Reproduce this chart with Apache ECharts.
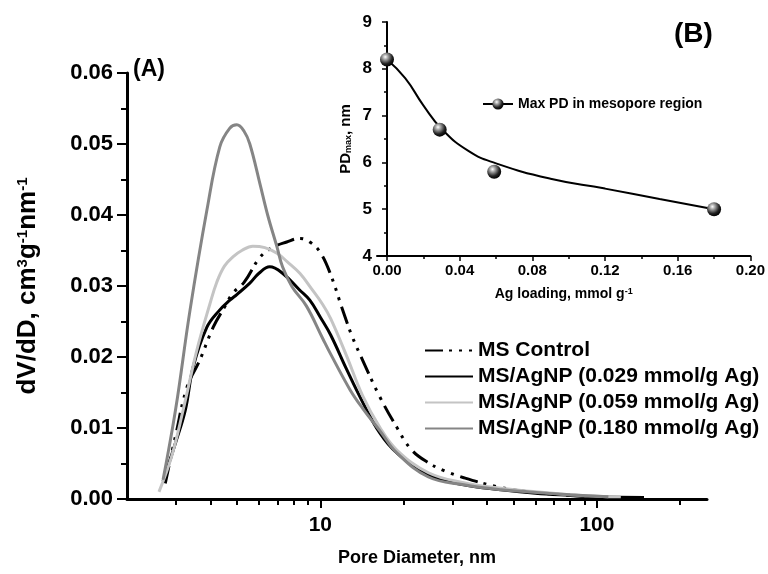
<!DOCTYPE html>
<html>
<head>
<meta charset="utf-8">
<script src="https://cdn.jsdelivr.net/npm/echarts@6/dist/echarts.min.js"></script>
<style>
  html, body { margin: 0; padding: 0; background: #fff; }
  #root { width: 768px; height: 574px; }
</style>
</head>
<body>
<div id="root"></div>
<script>
// main panel (A): pore size distributions, x = pore diameter (nm), y = dV/dD
const controlD = [2.75, 3.0, 3.3, 3.67, 4.1, 4.5, 4.83, 5.3, 6.04, 6.7, 7.56, 8.43, 9.16, 10, 10.9, 12, 13, 14.2, 16.4, 18.9, 21.4, 24.6, 28, 33, 44, 57, 75, 100]
const controlV = [0.0022, 0.009, 0.0158, 0.0196, 0.0242, 0.027, 0.029, 0.0305, 0.034, 0.0354, 0.0362, 0.0367, 0.0362, 0.0347, 0.0316, 0.0268, 0.023, 0.0196, 0.0144, 0.0101, 0.0069, 0.0051, 0.004, 0.003, 0.0017, 0.001, 0.0006, 0.0003]

const ag029D = [2.7, 3.0, 3.25, 3.47, 3.89, 4.3, 4.71, 4.99, 5.56, 6.0, 6.56, 7.3, 8.43, 9.16, 10, 10.9, 12.4, 14.2, 16.4, 18.9, 24.6, 33, 45, 60, 80, 100, 148]
const ag029V = [0.0025, 0.008, 0.0125, 0.0186, 0.0242, 0.0265, 0.028, 0.0288, 0.0304, 0.0318, 0.0327, 0.0318, 0.0294, 0.028, 0.0256, 0.0231, 0.0184, 0.0137, 0.0093, 0.0065, 0.0034, 0.002, 0.0013, 0.0008, 0.0005, 0.0003, 0.0002]

const ag059D = [2.61, 2.9, 3.19, 3.58, 3.99, 4.22, 4.5, 4.83, 5.2, 5.7, 6.3, 6.97, 7.6, 8.43, 9.3, 10.2, 10.9, 12.4, 14.2, 16.4, 18.9, 24.6, 33, 45, 57, 80, 100, 122]
const ag059V = [0.001, 0.006, 0.0125, 0.021, 0.0275, 0.0305, 0.0328, 0.0341, 0.035, 0.0356, 0.0354, 0.0346, 0.0334, 0.0318, 0.0296, 0.0274, 0.0254, 0.0203, 0.0146, 0.0101, 0.0069, 0.0037, 0.0023, 0.0015, 0.0011, 0.0006, 0.0004, 0.0003]

const ag180D = [2.7, 3.0, 3.38, 3.89, 4.33, 4.7, 4.99, 5.3, 5.56, 6.04, 6.45, 6.97, 7.3, 7.9, 8.9, 10.2, 10.9, 12.8, 14.2, 16.5, 18.9, 24.6, 33, 45, 57, 80, 110]
const ag180V = [0.0027, 0.0127, 0.0266, 0.0407, 0.0496, 0.0522, 0.0527, 0.0518, 0.05, 0.0445, 0.04, 0.0355, 0.0327, 0.0299, 0.0272, 0.0226, 0.0204, 0.0154, 0.0128, 0.0095, 0.0065, 0.0031, 0.002, 0.0013, 0.001, 0.0006, 0.0003]

const seriesNames = ['MS Control', 'MS/AgNP (0.029 mmol/g Ag)', 'MS/AgNP (0.059 mmol/g Ag)', 'MS/AgNP (0.180 mmol/g Ag)']

const mainMajorTicks = [10, 100]
const mainMinorTicks = [3, 4, 5, 6, 7, 8, 9, 20, 30, 40, 50, 60, 70, 80, 90, 200]

// inset (B): max pore diameter vs Ag loading
const loading = [0, 0.029, 0.059, 0.18]
const pdMax = [8.2, 6.7, 5.8, 5.0]
const fitLoading = [0, 0.01, 0.02, 0.03, 0.045, 0.06, 0.09, 0.12, 0.15, 0.18]
const fitPd = [8.2, 7.8, 7.22, 6.72, 6.24, 5.98, 5.65, 5.44, 5.22, 5.0]
const insetMajorTicks = [0, 0.04, 0.08, 0.12, 0.16, 0.20]
const insetMinorTicks = [0.02, 0.06, 0.10, 0.14, 0.18]

const zip = (xs, ys) => xs.map((x, i) => [x, ys[i]])

const FONT = 'Liberation Sans, Arial, sans-serif'
const bold = (size) => ({ fontFamily: FONT, fontWeight: 'bold', fontSize: size, color: '#000' })

const chart = echarts.init(document.getElementById('root'))

const option = {
  animation: false,
  backgroundColor: '#fff',
  grid: [
    { left: 127, right: 61, top: 73, bottom: 75 },
    { left: 377, right: 15, top: 22, bottom: 318 }
  ],
  xAxis: [
    {
      type: 'log', gridIndex: 0, position: 'bottom', min: 2, max: 250,
      axisLine: { lineStyle: { color: '#000', width: 3 } },
      axisTick: { customValues: mainMajorTicks, length: 9, lineStyle: { width: 2, color: '#000' } },
      axisLabel: { customValues: mainMajorTicks, margin: 16, ...bold(21) },
      splitLine: { show: false },
      name: 'Pore Diameter, nm', nameLocation: 'middle', nameGap: 50,
      nameTextStyle: bold(18)
    },
    {
      type: 'log', gridIndex: 0, position: 'bottom', min: 2, max: 250,
      axisLine: { show: false },
      axisTick: { customValues: mainMinorTicks, length: 6, lineStyle: { width: 2, color: '#000' } },
      axisLabel: { show: false },
      splitLine: { show: false }
    },
    {
      type: 'value', gridIndex: 1, position: 'bottom', min: -0.0055, max: 0.2,
      axisLine: { lineStyle: { color: '#000', width: 2 } },
      axisTick: { customValues: insetMajorTicks, length: 5, lineStyle: { width: 1.5, color: '#000' } },
      axisLabel: { customValues: insetMajorTicks, margin: 7, formatter: v => v.toFixed(2), ...bold(15) },
      splitLine: { show: false },
      name: '{a|Ag loading, mmol g}{s|-1}', nameLocation: 'middle', nameGap: 31,
      nameTextStyle: { ...bold(14), rich: { a: bold(14), s: { ...bold(9), verticalAlign: 'top' } } }
    },
    {
      type: 'value', gridIndex: 1, position: 'bottom', min: -0.0055, max: 0.2,
      axisLine: { show: false },
      axisTick: { customValues: insetMinorTicks, length: 3, lineStyle: { width: 1.5, color: '#000' } },
      axisLabel: { show: false },
      splitLine: { show: false }
    }
  ],
  yAxis: [
    {
      type: 'value', gridIndex: 0, min: 0, max: 0.06, interval: 0.01,
      axisLine: { show: true, lineStyle: { color: '#000', width: 3 } },
      axisTick: { show: true, length: 10, lineStyle: { width: 2, color: '#000' } },
      minorTick: { show: true, splitNumber: 2, length: 6, lineStyle: { width: 2, color: '#000' } },
      axisLabel: { margin: 14, formatter: v => v.toFixed(2), ...bold(22) },
      splitLine: { show: false },
      name: '{a|dV/dD, cm}{s|3}{a|g}{s|-1}{a|nm}{s|-1}', nameLocation: 'middle', nameGap: 86,
      nameTextStyle: { ...bold(26), rich: { a: bold(26), s: { ...bold(15), verticalAlign: 'top' } } }
    },
    {
      type: 'value', gridIndex: 1, min: 4, max: 9, interval: 1,
      axisLine: { show: true, lineStyle: { color: '#000', width: 2 } },
      axisTick: { show: true, length: 5, lineStyle: { width: 1.5, color: '#000' } },
      minorTick: { show: true, splitNumber: 2, length: 3, lineStyle: { width: 1.5, color: '#000' } },
      axisLabel: { margin: 5, ...bold(17) },
      splitLine: { show: false },
      name: '{a|PD}{s|max}{a|, nm}', nameLocation: 'middle', nameGap: 24,
      nameTextStyle: { ...bold(15), rich: { a: bold(15), s: { ...bold(9), verticalAlign: 'bottom' } } }
    }
  ],
  legend: [
    {
      data: seriesNames, orient: 'vertical', left: 424, top: 340, padding: 0,
      itemWidth: 48, itemHeight: 14, itemGap: 5,
      itemStyle: { opacity: 0 },
      textStyle: { ...bold(21), lineHeight: 21 }
    },
    {
      data: ['Max PD in mesopore region'], left: 482, top: 97, padding: 0,
      itemWidth: 30, itemHeight: 14,
      textStyle: bold(14),
      lineStyle: { width: 2, color: '#000', opacity: 1 }
    }
  ],
  graphic: [
    { type: 'text', left: 133, top: 58, style: { text: '(A)', font: 'bold 23px ' + FONT, fill: '#000' } },
    { type: 'text', left: 674, top: 20, style: { text: '(B)', font: 'bold 28px ' + FONT, fill: '#000' } }
  ],
  series: [
    {
      name: seriesNames[0], type: 'line', xAxisIndex: 0, yAxisIndex: 0, smooth: 0.4,
      symbol: 'none', data: zip(controlD, controlV),
      lineStyle: { color: '#000', width: 3, type: [18, 6, 3, 7, 3, 7, 3, 7] }
    },
    {
      name: seriesNames[1], type: 'line', xAxisIndex: 0, yAxisIndex: 0, smooth: 0.4,
      symbol: 'none', data: zip(ag029D, ag029V),
      lineStyle: { color: '#000', width: 3 }
    },
    {
      name: seriesNames[2], type: 'line', xAxisIndex: 0, yAxisIndex: 0, smooth: 0.4,
      symbol: 'none', data: zip(ag059D, ag059V),
      lineStyle: { color: '#c4c4c4', width: 3 }
    },
    {
      name: seriesNames[3], type: 'line', xAxisIndex: 0, yAxisIndex: 0, smooth: 0.4,
      symbol: 'none', data: zip(ag180D, ag180V),
      lineStyle: { color: '#858585', width: 3 }
    },
    {
      name: 'fit', type: 'line', xAxisIndex: 2, yAxisIndex: 1, smooth: 0.5,
      symbol: 'none', data: zip(fitLoading, fitPd),
      lineStyle: { color: '#000', width: 2 }
    },
    {
      name: 'Max PD in mesopore region', type: 'line', xAxisIndex: 2, yAxisIndex: 1,
      symbol: 'circle', symbolSize: 14, data: zip(loading, pdMax),
      lineStyle: { width: 0, opacity: 0 },
      itemStyle: {
        color: {
          type: 'radial', x: 0.38, y: 0.32, r: 0.7,
          colorStops: [
            { offset: 0, color: '#ffffff' },
            { offset: 0.25, color: '#aaaaaa' },
            { offset: 0.7, color: '#222222' },
            { offset: 1, color: '#000000' }
          ]
        }
      }
    }
  ]
}

chart.setOption(option)
</script>
</body>
</html>
